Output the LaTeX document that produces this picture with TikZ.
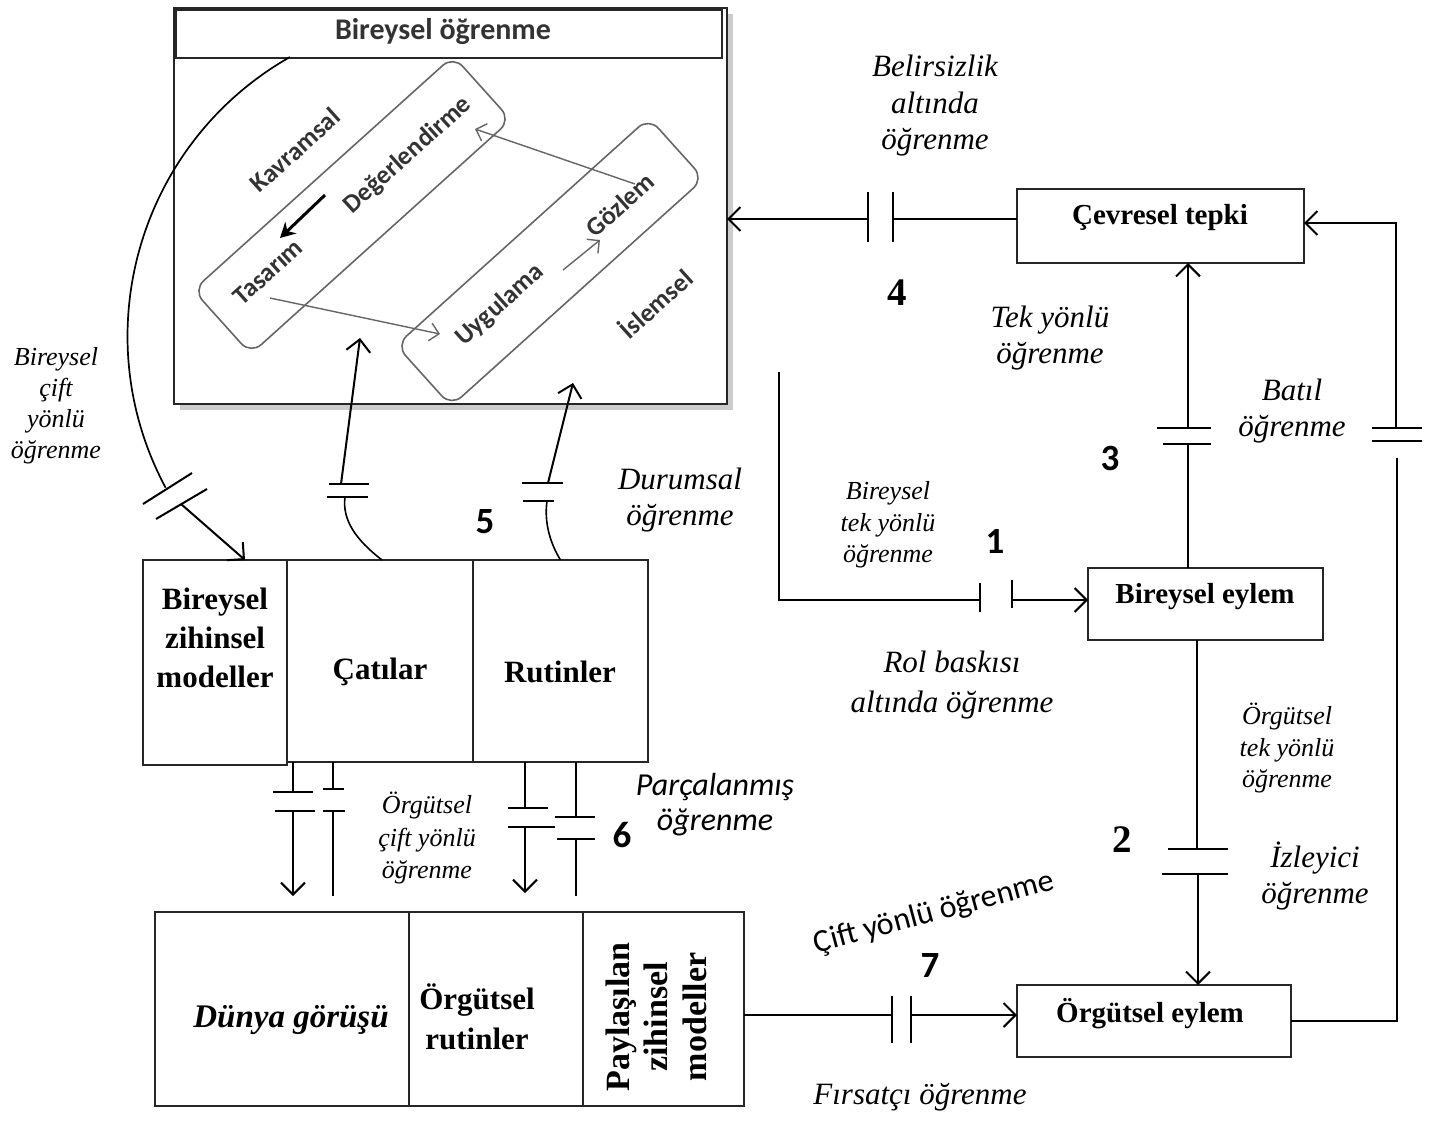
\documentclass[tikz,border=0pt]{standalone}
\usepackage{fontspec}
\setmainfont{Liberation Serif}
\newfontfamily\calfont{Carlito}
\usetikzlibrary{arrows.meta,shadows,calc}

\begin{document}
\begin{tikzpicture}[x=1pt,y=-1pt,
  every node/.style={inner sep=0pt,outer sep=0pt},
  conn/.style={line width=2pt},
  arr/.style={line width=2pt,-{Straight Barb[length=12pt,width=24pt,line width=2pt]}},
  brk/.style={line width=2pt},
  box/.style={draw=black!85,line width=1.3pt,fill=white,anchor=north west},
  lbl/.style={font=\fontsize{31}{36.5}\selectfont\itshape,align=center},
  slbl/.style={font=\fontsize{26}{31.5}\selectfont\itshape,align=center},
  sanslbl/.style={font=\calfont\fontsize{31}{35}\selectfont,align=center},
  boxtxt/.style={font=\fontsize{29}{34}\selectfont\bfseries,align=center},
  bigtxt/.style={font=\fontsize{31}{39}\selectfont\bfseries,align=center},
  numsans/.style={font=\calfont\bfseries\fontsize{37}{37}\selectfont},
  numserif/.style={font=\bfseries\fontsize{39}{39}\selectfont},
  phase/.style={draw=black!60,line width=1.6pt,rounded corners=14pt,rotate=42},
  phasetxt/.style={font=\calfont\bfseries\fontsize{26}{26}\selectfont,text=black!80,rotate=42},
  thinarr/.style={draw=black!60,line width=1.4pt,-{Straight Barb[length=9pt,width=18pt,line width=1.4pt]}}
]
\useasboundingbox (0,0) rectangle (1434,1125);
\fill[white] (0,0) rectangle (1434,1125);

% ---- individual learning panel ----
\node[draw=black!85,line width=1.5pt,fill=white,minimum width=553pt,minimum height=396pt,anchor=north west,
      drop shadow={shadow xshift=6pt,shadow yshift=-6pt,opacity=0.4}] (tb) at (174,8) {};
\node[draw=black!85,line width=2.6pt,minimum width=546pt,minimum height=48pt,anchor=north west] (tbar) at (176,10) {};
\node[font=\calfont\bfseries\fontsize{30}{30}\selectfont,text=black!80] (tbtitle) at (443,32) {Bireysel öğrenme};

\node[phase,minimum width=350pt,minimum height=86pt] (kav) at (352,205) {};
\node[phase,minimum width=340pt,minimum height=82pt] (isl) at (550,262) {};
\node[phasetxt] (tkav) at (295,150) {Kavramsal};
\node[phasetxt] (tdeg) at (408,155) {Değerlendirme};
\node[phasetxt] (ttas) at (268,272) {Tasarım};
\node[phasetxt] (tuyg) at (500,305) {Uygulama};
\node[phasetxt] (tgoz) at (620,205) {Gözlem};
\node[phasetxt] (tisl) at (655,303) {İslemsel};
\draw[line width=3pt,-{Stealth[length=15pt,width=16pt]}] (325,195) -- (280,238);
\draw[thinarr] (270,298) -- (440,334);
\draw[thinarr] (635,184) -- (475,129);
\draw[thinarr] (563,270) -- (600,240);

% ---- environment and action boxes ----
\node[box,minimum width=287pt,minimum height=74pt] (cev) at (1017,189) {};
\node[boxtxt] (tcev) at (1160,218) {Çevresel tepki};
\node[box,minimum width=235pt,minimum height=72pt] (bey) at (1088,568) {};
\node[boxtxt] (tbey) at (1205,597) {Bireysel eylem};
\node[box,minimum width=274pt,minimum height=72pt] (oe) at (1017,985) {};
\node[boxtxt] (toe) at (1150,1014) {Örgütsel eylem};

% ---- individual memory ----
\node[box,minimum width=144pt,minimum height=205pt] (bzm) at (143,560) {};
\node[box,minimum width=186pt,minimum height=202pt] (cat) at (287,560) {};
\node[box,minimum width=175pt,minimum height=202pt] (rut) at (473,560) {};
\node[bigtxt] (tbzm) at (215,638) {Bireysel\\zihinsel\\modeller};
\node[bigtxt] (tcat) at (380,672) {Çatılar};
\node[bigtxt] (trut) at (560,672) {Rutinler};

% ---- organisational memory ----
\node[box,minimum width=254pt,minimum height=194pt] (dg) at (155,912) {};
\node[box,minimum width=174pt,minimum height=194pt] (ort) at (409,912) {};
\node[box,minimum width=161pt,minimum height=194pt] (pay) at (583,912) {};
\node[font=\fontsize{33}{36}\selectfont\bfseries\itshape] (tdg) at (291,1020) {Dünya görüşü};
\node[bigtxt,font=\fontsize{31}{40}\selectfont\bfseries] (tort) at (477,1017) {Örgütsel\\rutinler};
\node[bigtxt,font=\fontsize{34}{38.5}\selectfont\bfseries,rotate=90] (tpay) at (656,1017) {Paylaşılan\\zihinsel\\modeller};

% ---- 1: individual single loop ----
\coordinate (c1s) at (779,372);
\coordinate (c1a) at (980,600);
\coordinate (c1b) at (1012,600);
\draw[conn] (c1s) -- (779,600) -- (c1a);
\draw[brk] ($(c1a)+(0,-17)$) -- ($(c1a)+(0,12)$);
\draw[brk] ($(c1b)+(0,-20)$) -- ($(c1b)+(0,8)$);
\draw[arr] (c1b) -- ([yshift=4pt]bey.west);

% ---- 2: organisational single loop ----
\coordinate (c2a) at (1197,849);
\coordinate (c2b) at (1198,874);
\draw[conn] (bey.south -| c2a) -- (c2a);
\draw[brk] (1168,849) -- (1228,849);
\draw[brk] (1162,874) -- (1228,874);
\draw[arr] (c2b) -- (oe.north -| c2b);

% ---- 3: superstitious learning ----
\coordinate (c3a) at (1188,444);
\coordinate (c3b) at (1188,428);
\draw[conn] (bey.north -| c3a) -- (c3a);
\draw[brk] (1163,444) -- (1211,444);
\draw[brk] (1157,428) -- (1211,428);
\draw[arr] (c3b) -- (cev.south -| c3b);

% ---- feedback from organisational action ----
\coordinate (cra) at (1397,458);
\coordinate (crb) at (1396,428);
\coordinate (crc) at (1396,223);
\draw[conn] (oe.east) -- (oe.east -| cra) -- (cra);
\draw[brk] (1372,441) -- (1422,441);
\draw[brk] (1372,428) -- (1422,428);
\draw[arr] (crb) -- (crc) -- (cev.east |- crc);

% ---- 4: learning under ambiguity ----
\coordinate (c4a) at (868,219);
\coordinate (c4b) at (893,219);
\draw[conn] ([yshift=7pt]cev.west) -- (c4b);
\draw[brk] ($(c4a)+(0,-27)$) -- ($(c4a)+(0,23)$);
\draw[brk] ($(c4b)+(0,-27)$) -- ($(c4b)+(0,23)$);
\draw[arr] (c4a) -- (tb.east |- c4a);

% ---- 5: situational learning ----
\coordinate (c5a) at (345,497);
\coordinate (c5b) at (341,484);
\coordinate (c5t) at (360,338);
\draw[conn,line width=1.6pt] ([xshift=2pt]cat.north) .. controls (356,540) and (342,520) .. (c5a);
\draw[brk] (327,497) -- (368,497);
\draw[brk] (329,484) -- (369,484);
\draw[arr] (c5b) -- (c5t);
\coordinate (c5c) at (547,501);
\coordinate (c5d) at (548,483);
\coordinate (c5u) at (573,383);
\draw[conn,line width=1.6pt] (rut.north) .. controls (550,543) and (544,522) .. (c5c);
\draw[brk] (523,501) -- (554,501);
\draw[brk] (522,483) -- (563,483);
\draw[arr] (c5d) -- (c5u);

% ---- individual double loop ----
\coordinate (cba) at (290,57);
\draw[conn,line width=1.7pt] (cba) arc[start angle=119.6,end angle=208.2,radius=321pt];
\draw[brk] (143,504) -- (192,473);
\draw[brk] (156,519) -- (207,489);
\coordinate (cbb) at (181,504);
\draw[arr] (cbb) -- ([xshift=30pt]bzm.north);

% ---- 6: fragmented learning ----
\coordinate (c6a) at (293,792);
\coordinate (c6b) at (293,811);
\coordinate (c6c) at (333,789);
\coordinate (c6d) at (333,811);
\coordinate (c6e) at (525,808);
\coordinate (c6f) at (525,827);
\coordinate (c6g) at (576,817);
\coordinate (c6h) at (576,839);
\draw[conn] (cat.south -| c6a) -- (c6a);
\draw[brk] (273,792) -- (313,792);
\draw[brk] (275,811) -- (315,811);
\draw[arr] (c6b) -- (293,896);
\draw[conn] (cat.south -| c6c) -- (c6c);
\draw[brk] (323,789) -- (344,789);
\draw[brk] (323,811) -- (345,811);
\draw[conn] (c6d) -- (333,896);
\draw[conn] (rut.south -| c6e) -- (c6e);
\draw[brk] (508,808) -- (548,808);
\draw[brk] (508,827) -- (555,827);
\draw[arr] (c6f) -- (525,893);
\draw[conn] (rut.south -| c6g) -- (c6g);
\draw[brk] (555,817) -- (595,817);
\draw[brk] (557,839) -- (595,839);
\draw[conn] (c6h) -- (576,896);

% ---- 7: opportunistic learning ----
\coordinate (c7a) at (892,1015);
\coordinate (c7b) at (911,1015);
\draw[conn] ([yshift=-6pt]pay.east) -- (c7a);
\draw[brk] (892,996) -- (892,1043);
\draw[brk] (911,996) -- (911,1043);
\draw[arr] (c7b) -- ([yshift=6pt]oe.west);

% ---- labels ----
\node[lbl] (lbel) at (935,106) {Belirsizlik\\altında\\öğrenme};
\node[lbl] (ltek) at (1050,338) {Tek yönlü\\öğrenme};
\node[lbl] (lbat) at (1292,411) {Batıl\\öğrenme};
\node[slbl] (lbtek) at (888,525) {Bireysel\\tek yönlü\\öğrenme};
\node[lbl] (ldur) at (680,500) {Durumsal\\öğrenme};
\node[lbl,font=\fontsize{31}{40}\selectfont\itshape] (lrol) at (952,685) {Rol baskısı\\altında öğrenme};
\node[slbl] (lotek) at (1287,748) {Örgütsel\\tek yönlü\\öğrenme};
\node[sanslbl,font=\calfont\itshape\fontsize{32}{35}\selectfont] (lpar) at (715,805) {Parçalanmış\\öğrenme};
\node[lbl] (lizl) at (1315,876) {İzleyici\\öğrenme};
\node[sanslbl,font=\calfont\fontsize{32}{35}\selectfont,rotate=15] (lcift) at (934,913) {Çift yönlü öğrenme};
\node[lbl] (lfir) at (920,1097) {Fırsatçı öğrenme};
\node[slbl,font=\fontsize{26}{31}\selectfont\itshape] (lbcift) at (56,406) {Bireysel\\çift\\yönlü\\öğrenme};
\node[slbl,font=\fontsize{26}{32.5}\selectfont\itshape] (locift) at (427,838) {Örgütsel\\çift yönlü\\öğrenme};

\node[numsans] (n1) at (995,541) {1};
\node[numserif] (n2) at (1122,840) {2};
\node[numsans] (n3) at (1110,458) {3};
\node[numserif] (n4) at (897,293) {4};
\node[numsans] (n5) at (485,522) {5};
\node[numsans] (n6) at (622,835) {6};
\node[numsans] (n7) at (930,965) {7};
\end{tikzpicture}
\end{document}
